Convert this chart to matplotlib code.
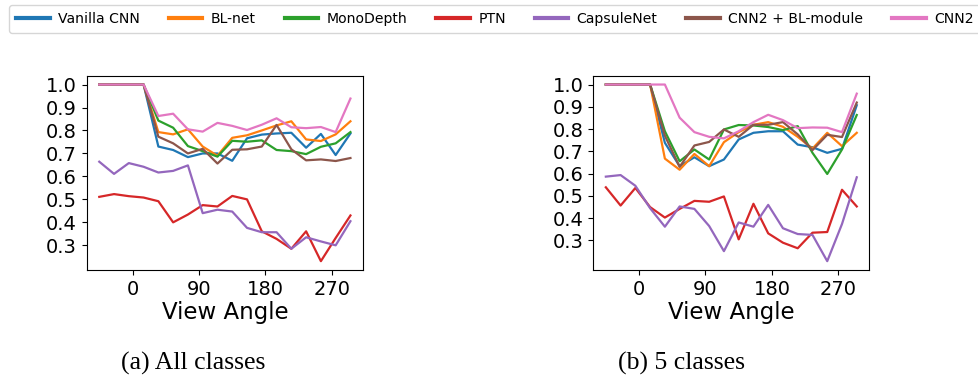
import numpy as np
import matplotlib
matplotlib.use("Agg")
import matplotlib.pyplot as plt

angles = [-45, -25, -5, 15, 35, 55, 75, 95, 115, 135, 155, 175, 195, 215, 235, 255, 275, 295]
methods = ["Vanilla CNN", "BL-net", "MonoDepth", "PTN", "CapsuleNet", "CNN2 + BL-module", "CNN2"]
colors = ["#1f77b4", "#ff7f0e", "#2ca02c", "#d62728", "#9467bd", "#8c564b", "#e377c2"]

# (a) All classes
all_vanilla = [1.0, 1.0, 1.0, 1.0, 0.730, 0.715, 0.684, 0.700, 0.700, 0.668, 0.766, 0.782, 0.787, 0.790, 0.725, 0.785, 0.693, 0.787]
all_blnet = [1.0, 1.0, 1.0, 1.0, 0.793, 0.783, 0.805, 0.730, 0.690, 0.768, 0.779, 0.800, 0.822, 0.840, 0.761, 0.754, 0.783, 0.840]
all_mono = [1.0, 1.0, 1.0, 1.0, 0.843, 0.812, 0.732, 0.710, 0.686, 0.755, 0.751, 0.757, 0.715, 0.710, 0.697, 0.729, 0.744, 0.793]
all_ptn = [0.511, 0.523, 0.514, 0.508, 0.492, 0.400, 0.434, 0.475, 0.469, 0.515, 0.500, 0.361, 0.328, 0.285, 0.361, 0.231, 0.332, 0.430]
all_caps = [0.664, 0.611, 0.658, 0.642, 0.617, 0.624, 0.648, 0.440, 0.455, 0.447, 0.376, 0.357, 0.357, 0.285, 0.335, 0.317, 0.300, 0.405]
all_cnn2bl = [1.0, 1.0, 1.0, 1.0, 0.773, 0.744, 0.700, 0.720, 0.656, 0.716, 0.718, 0.730, 0.824, 0.718, 0.670, 0.674, 0.667, 0.680]
all_cnn2 = [1.0, 1.0, 1.0, 1.0, 0.863, 0.873, 0.805, 0.795, 0.833, 0.820, 0.802, 0.825, 0.853, 0.814, 0.810, 0.815, 0.793, 0.939]

# (b) 5 classes
c5_vanilla = [1.0, 1.0, 1.0, 1.0, 0.738, 0.633, 0.673, 0.633, 0.663, 0.753, 0.783, 0.790, 0.790, 0.730, 0.718, 0.693, 0.711, 0.907]
c5_blnet = [1.0, 1.0, 1.0, 1.0, 0.667, 0.617, 0.688, 0.633, 0.741, 0.786, 0.819, 0.831, 0.810, 0.765, 0.712, 0.783, 0.723, 0.783]
c5_mono = [1.0, 1.0, 1.0, 1.0, 0.790, 0.655, 0.708, 0.663, 0.798, 0.818, 0.816, 0.809, 0.795, 0.813, 0.693, 0.598, 0.708, 0.863]
c5_ptn = [0.538, 0.456, 0.535, 0.449, 0.402, 0.441, 0.477, 0.473, 0.497, 0.304, 0.464, 0.331, 0.289, 0.264, 0.334, 0.337, 0.527, 0.452]
c5_caps = [0.586, 0.593, 0.545, 0.444, 0.361, 0.452, 0.441, 0.364, 0.251, 0.380, 0.361, 0.459, 0.354, 0.328, 0.324, 0.206, 0.373, 0.583]
c5_cnn2bl = [1.0, 1.0, 1.0, 1.0, 0.770, 0.630, 0.726, 0.742, 0.798, 0.765, 0.819, 0.819, 0.831, 0.776, 0.705, 0.774, 0.764, 0.919]
c5_cnn2 = [1.0, 1.0, 1.0, 1.0, 1.0, 0.851, 0.786, 0.765, 0.758, 0.790, 0.831, 0.864, 0.840, 0.804, 0.807, 0.806, 0.786, 0.959]

panels = [
    ("(a) All classes", [all_vanilla, all_blnet, all_mono, all_ptn, all_caps, all_cnn2bl, all_cnn2]),
    ("(b) 5 classes", [c5_vanilla, c5_blnet, c5_mono, c5_ptn, c5_caps, c5_cnn2bl, c5_cnn2]),
]
xticks = [0, 90, 180, 270]
yticks = [0.3, 0.4, 0.5, 0.6, 0.7, 0.8, 0.9, 1.0]

W, H = 979, 377
fig = plt.figure(figsize=(W / 100, H / 100), dpi=100)

ax_rects = [
    [86.7 / W, (H - 270) / H, 276.3 / W, 194.3 / H],
    [593.3 / W, (H - 270) / H, 276.0 / W, 194.3 / H],
]
caption_x = [193 / W, 682 / W]

handles = None
for (caption, series), rect, cx in zip(panels, ax_rects, caption_x):
    ax = fig.add_axes(rect)
    lines = []
    for name, vals, col in zip(methods, series, colors):
        ln, = ax.plot(angles, vals, color=col, lw=1.6, label=name)
        lines.append(ln)
    handles = lines
    ax.set_xticks(xticks)
    ax.set_yticks(yticks)
    ax.set_yticklabels([f"{v:.1f}" for v in yticks])
    ax.tick_params(labelsize=14)
    ax.set_xlabel("View Angle", fontsize=16.5, labelpad=2)
    fig.text(cx, (H - 370) / H, caption, ha="center", va="baseline",
             fontsize=18.5, family=["Liberation Serif", "DejaVu Serif"])

leg = fig.legend(handles, methods, loc="upper left", bbox_to_anchor=(9 / W, 1 - 5 / H),
                 ncol=7, fontsize=10.1, handlelength=2.4, handletextpad=0.6,
                 columnspacing=2.05, frameon=True, borderaxespad=0.0, borderpad=0.5)
for lh in leg.get_lines():
    lh.set_linewidth(3)

fig.savefig("out.png", dpi=100)
